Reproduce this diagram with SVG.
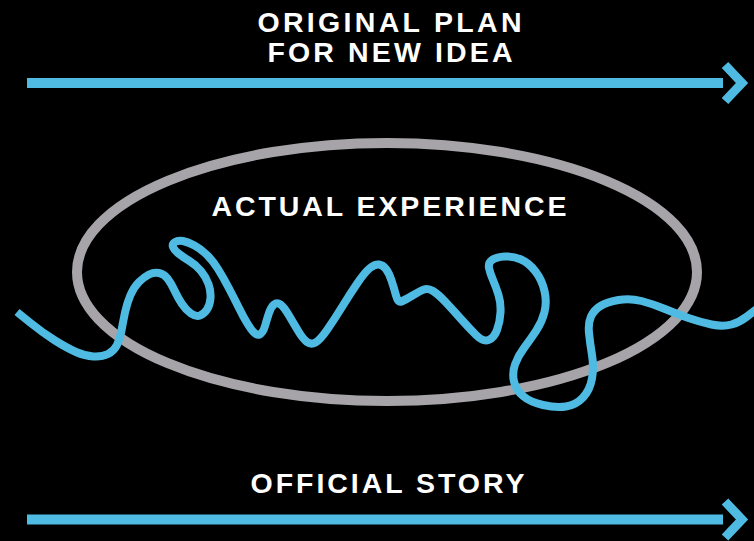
<svg xmlns="http://www.w3.org/2000/svg" width="754" height="541" viewBox="0 0 754 541">
  <style>
    .label { font-family: "Liberation Sans", Arial, sans-serif; font-weight: bold; font-size: 28.5px; fill: #ffffff; text-anchor: middle; }
    .track { stroke: #4fbbe3; stroke-width: 10; fill: none; }
    .chev { stroke: #4fbbe3; stroke-width: 9; fill: none; stroke-linejoin: miter; stroke-miterlimit: 10; }
    .ring { stroke: #a6a4a9; stroke-width: 10; fill: none; }
    .wiggle { stroke: #4fbbe3; stroke-width: 8; fill: none; stroke-linejoin: round; stroke-linecap: butt; }
  </style>
  <rect x="0" y="0" width="754" height="541" fill="#000000"/>

  <!-- planned path: straight line with chevron head -->
  <g id="plan">
    <text class="label" x="389.5" y="32" textLength="264" lengthAdjust="spacing">ORIGINAL PLAN</text>
    <text class="label" x="390" y="62" textLength="245" lengthAdjust="spacing">FOR NEW IDEA</text>
  </g>

  <!-- the real journey inside the oval -->
  <g id="experience">
    <ellipse class="ring" cx="387" cy="272" rx="310" ry="129"/>
    <text class="label" x="389" y="216" textLength="355" lengthAdjust="spacing">ACTUAL EXPERIENCE</text>
  </g>

  <g id="story">
    <text class="label" x="387.5" y="493" textLength="274" lengthAdjust="spacing">OFFICIAL STORY</text>
  </g>

  <g id="connectors">
    <line class="track" x1="27" y1="83" x2="723" y2="83"/>
    <polyline class="chev" points="725,65 742,83 725,101"/>
    <line class="track" x1="27" y1="519.5" x2="723" y2="519.5"/>
    <polyline class="chev" points="725,501.5 742,519.5 725,537.5"/>
    <path class="wiggle" d="M17,312 L30,322.5 Q43,333 55,340.5 Q67,348 76,352 Q85,356 93.5,356.5 Q102,357 108,354 Q114,351 117,345 Q120,339 121.5,330.5 Q123,322 125,312.5 Q127,303 130.5,295 Q134,287 139,282 Q144,277 149,274.5 Q154,272 159,273 Q164,274 167.5,278.5 Q171,283 174.5,290.5 Q178,298 182,304 Q186,310 191,313.5 Q196,317 200,315.5 Q204,314 207,309.5 Q210,305 210.5,298 Q211,291 208.5,284 Q206,277 201,271 Q196,265 189.5,261 Q183,257 178.5,253.5 Q174,250 173,247 Q172,244 175,242 Q178,240 183,241 Q188,242 194.5,245.5 Q201,249 207,255 Q213,261 218,269 Q223,277 228.5,287.5 Q234,298 240,310 Q246,322 251,329 Q256,336 259.5,334.5 Q263,333 265,326 Q267,319 269,313 Q271,307 274,304.5 Q277,302 280.5,304.5 Q284,307 289,315.5 Q294,324 298.5,331.5 Q303,339 307,342 Q311,345 315.5,342.5 Q320,340 327,330 Q334,320 342,307 Q350,294 357.5,283 Q365,272 370,268 Q375,264 379,264.5 Q383,265 386,269 Q389,273 391.5,280.5 Q394,288 396,295.5 Q398,303 401.5,301.5 Q405,300 412.5,295.5 Q420,291 424,289.5 Q428,288 433,291 Q438,294 445.5,302 Q453,310 461,319 Q469,328 476,335 Q483,342 488.5,340 Q494,338 497,330 Q500,322 500.5,312.5 Q501,303 498.5,295 Q496,287 493,280 Q490,273 489,268 Q488,263 492,260 Q496,257 504.5,256.5 Q513,256 521,259.5 Q529,263 535.5,271.5 Q542,280 544.5,291 Q547,302 544.5,312 Q542,322 536,331 Q530,340 524,348 Q518,356 515,364.5 Q512,373 514,381.5 Q516,390 523,396 Q530,402 543,405 Q556,408 566,406.5 Q576,405 583,397.5 Q590,390 592,378.5 Q594,367 592,355 Q590,343 589,333 Q588,323 591,316.5 Q594,310 600.5,306 Q607,302 618.5,300 Q630,298 641.5,301 Q653,304 665,309 Q677,314 688.5,318 Q700,322 711.5,324.5 Q723,327 731.5,324.5 Q740,322 747,316.5 L758,308"/>
  </g>
</svg>
